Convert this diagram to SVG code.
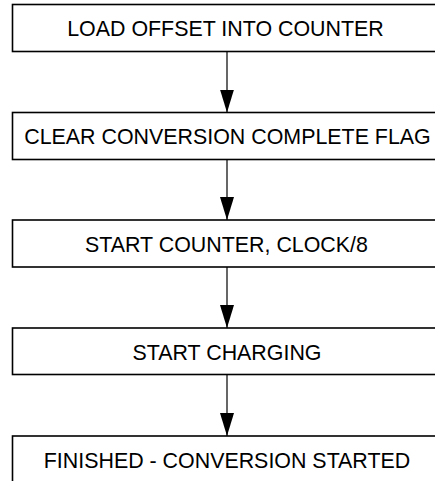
<svg xmlns="http://www.w3.org/2000/svg" width="435" height="481" viewBox="0 0 435 481">
<defs>
<style>
.box{fill:#fff;stroke:#000;stroke-width:1.6}
.lbl{font-family:"Liberation Sans",Arial,Helvetica,sans-serif;font-size:21.4px;fill:#000;text-anchor:middle}
.edge{stroke:#000;stroke-width:1.2;fill:none}
</style>
<marker id="ah" markerUnits="userSpaceOnUse" markerWidth="23" markerHeight="14" refX="23" refY="7" orient="auto" viewBox="0 0 23 14">
<path d="M0,0 L23,7 L0,14 Z" fill="#000"/>
</marker>
</defs>
<rect width="435" height="481" fill="#fff"/>
<g id="connectors">
<line class="edge" x1="227" y1="51.5" x2="227" y2="112.5" marker-end="url(#ah)"/>
<line class="edge" x1="227" y1="159.5" x2="227" y2="220" marker-end="url(#ah)"/>
<line class="edge" x1="227" y1="267" x2="227" y2="328" marker-end="url(#ah)"/>
<line class="edge" x1="227" y1="374.5" x2="227" y2="436" marker-end="url(#ah)"/>
</g>
<g id="n1"><rect class="box" x="12.5" y="4.5" width="430" height="47"/><text class="lbl" x="225.5" y="36">LOAD OFFSET INTO COUNTER</text></g>
<g id="n2"><rect class="box" x="12.5" y="112.5" width="430" height="47"/><text class="lbl" x="227.5" y="144.3">CLEAR CONVERSION COMPLETE FLAG</text></g>
<g id="n3"><rect class="box" x="12.5" y="220" width="430" height="47"/><text class="lbl" x="226.5" y="251.7">START COUNTER, CLOCK/8</text></g>
<g id="n4"><rect class="box" x="12.5" y="328" width="430" height="46.5"/><text class="lbl" x="227" y="359.7">START CHARGING</text></g>
<g id="n5"><rect class="box" x="12.5" y="436" width="430" height="47"/><text class="lbl" x="227" y="468">FINISHED - CONVERSION STARTED</text></g>
</svg>
